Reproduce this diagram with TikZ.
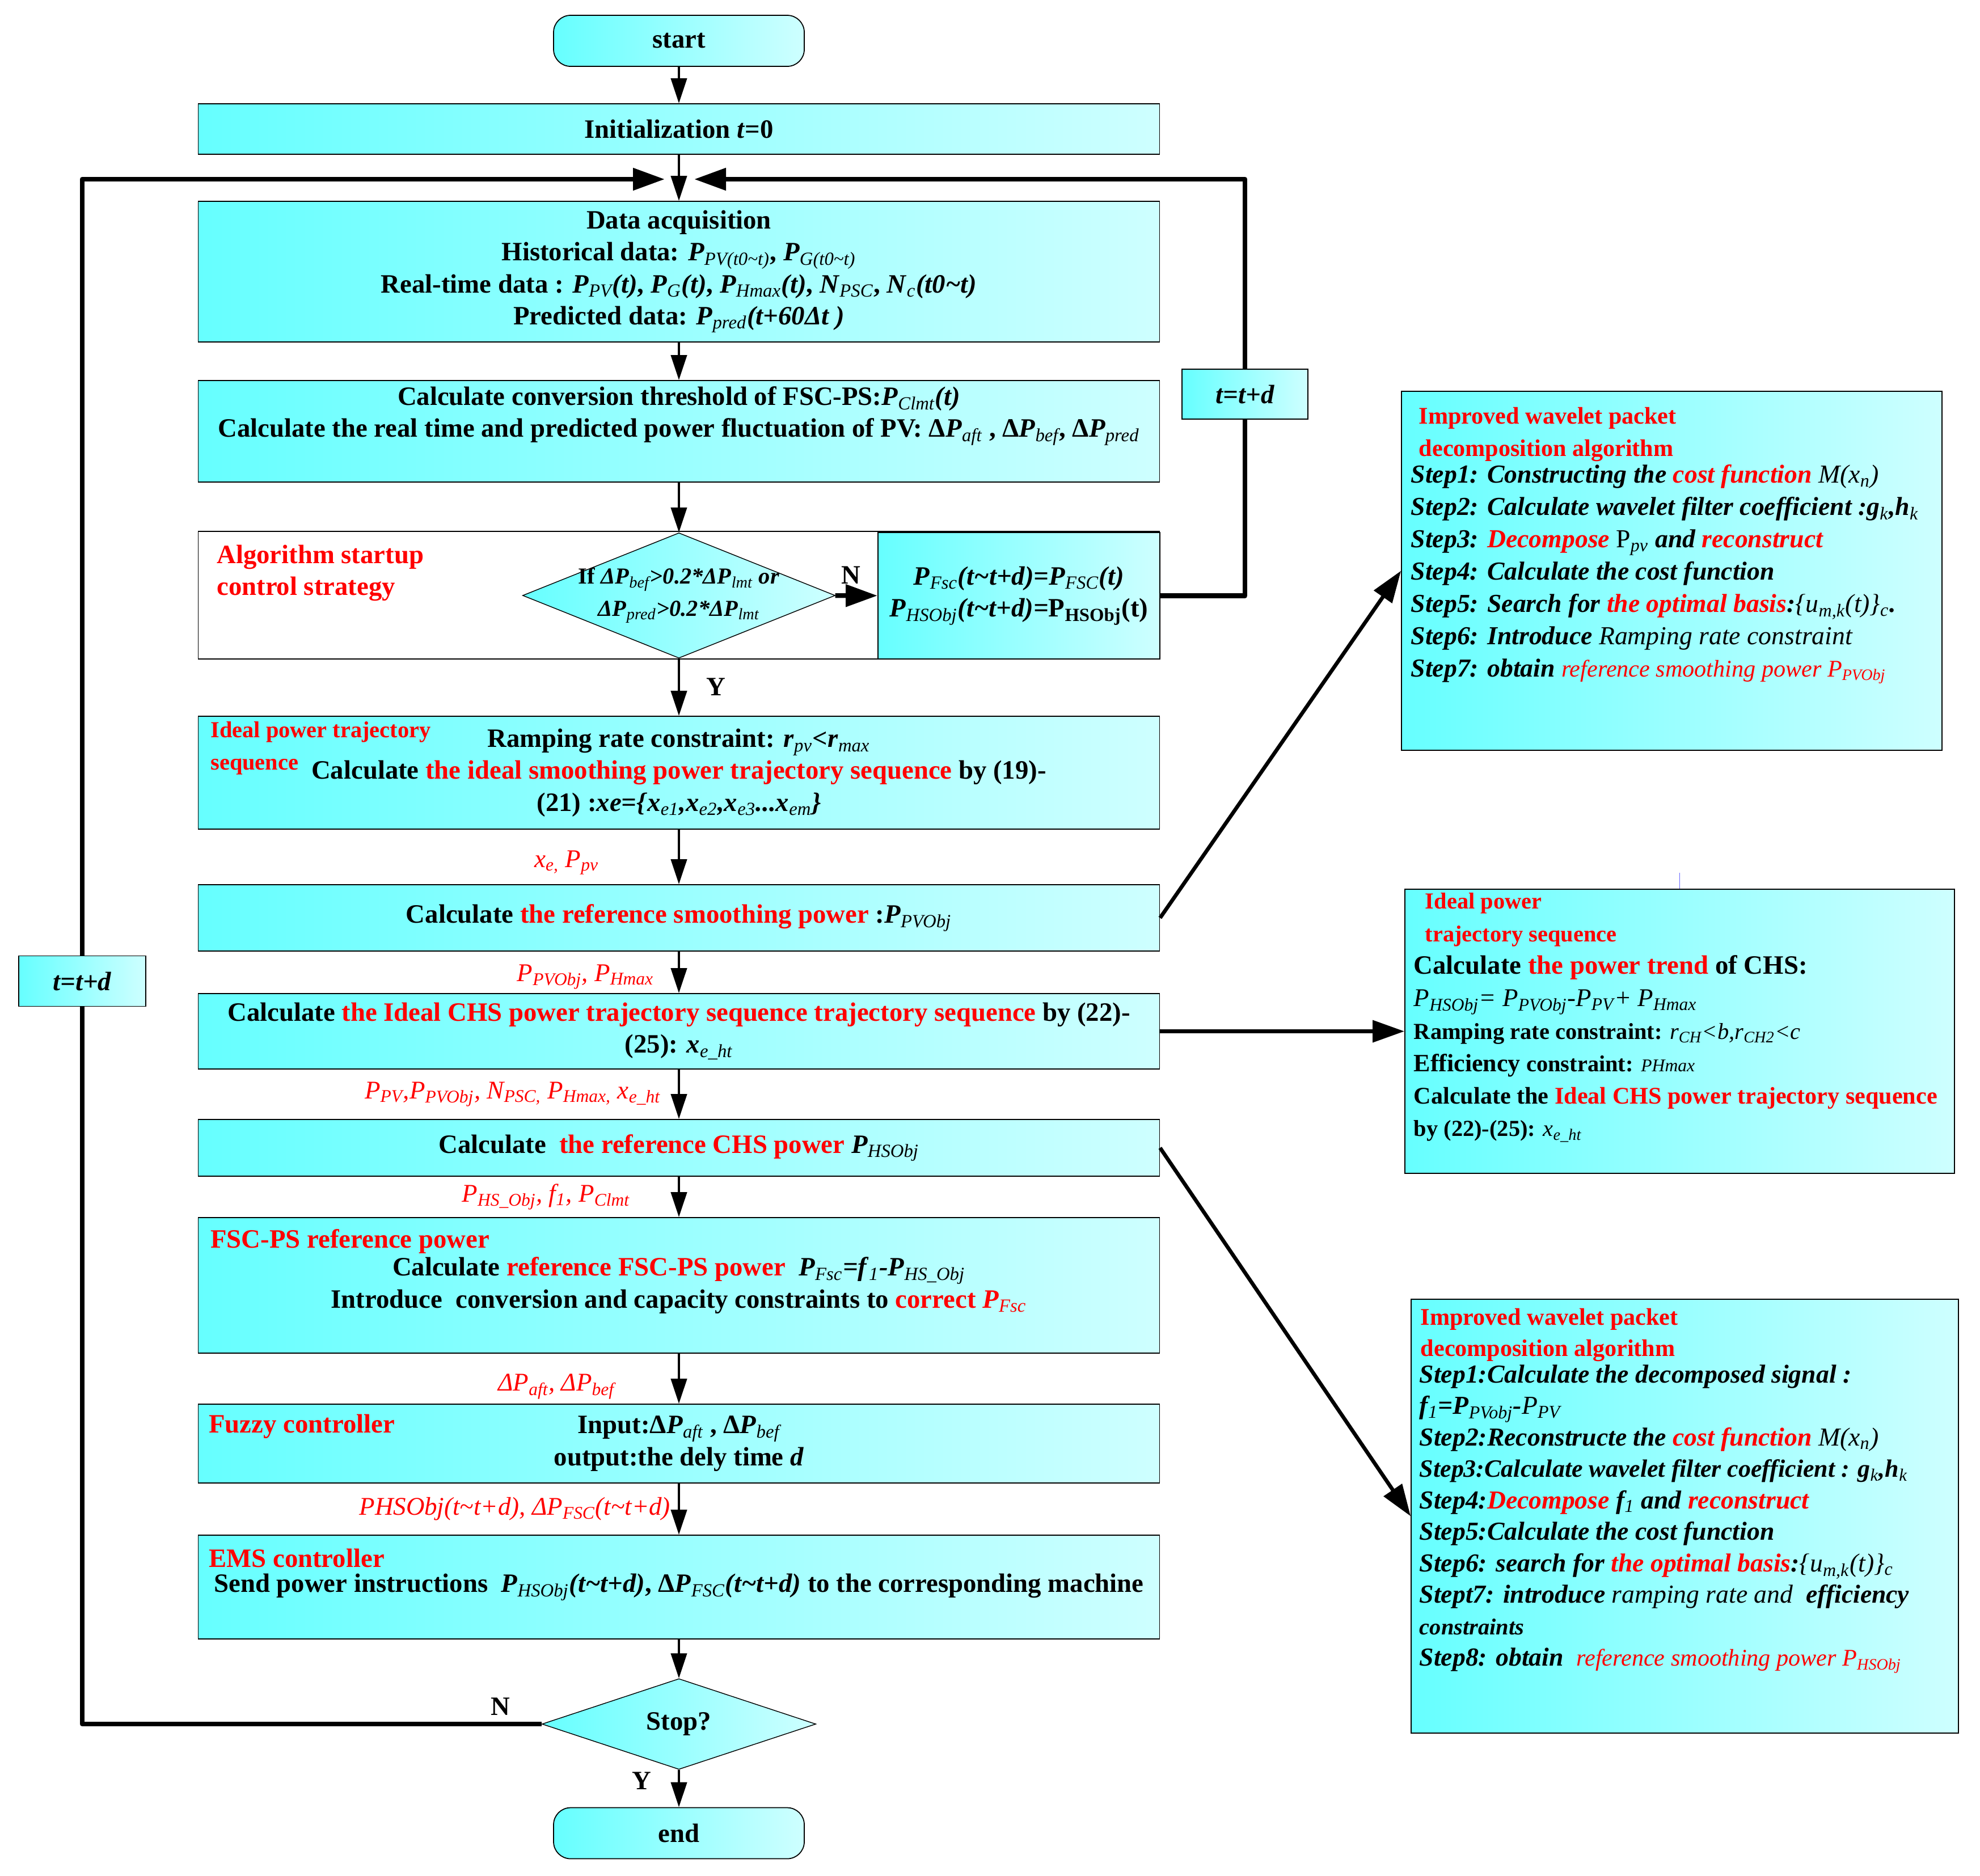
\documentclass[tikz,border=0pt]{standalone}
\usepackage{fontspec}
\setmainfont{Liberation Serif}
\usepackage{tikz}
\usetikzlibrary{arrows.meta, positioning, shapes.geometric}
\usepackage{xcolor}

\definecolor{cyl}{RGB}{102,255,255}
\definecolor{cyr}{RGB}{206,255,255}
\newcommand{\sbs}[1]{\textsubscript{\normalfont\itshape #1}}
\newcommand{\vv}[2]{\textit{#1}\sbs{#2}}
\newcommand{\rd}[1]{\textcolor{red}{#1}}
\newcommand{\tld}{\textasciitilde}

\begin{document}
\begin{tikzpicture}[
    font=\bfseries\fontsize{13.3}{16}\selectfont,
    >={Triangle[length=4.4mm,width=2.8mm]},
    box/.style={draw, line width=0.5pt, left color=cyl, right color=cyr,
        minimum width=16.95cm, inner sep=0pt, align=center},
    terminal/.style={box, rounded corners=0.3cm, minimum width=4.42cm, minimum height=0.9cm},
    decide/.style={draw, diamond, line width=0.4pt, left color=cyl, right color=cyr, inner sep=0pt},
    side/.style={draw, line width=0.5pt, left color=cyl, right color=cyr, inner sep=0pt},
    flow/.style={->, line width=1.2pt},
    bigflow/.style={-{Triangle[length=5.6mm,width=3.8mm]}, line width=2.4pt, line join=round},
    thickline/.style={line width=2.4pt, line join=round},
    lbl/.style={text=red, inner sep=0pt, font=\itshape\fontsize{12.8}{14}\selectfont},
    redtitle/.style={text=red, align=left, inner sep=0pt, anchor=north west},
    steps/.style={align=left, inner sep=0pt, anchor=north west, font=\bfseries\itshape\fontsize{13}{16.2}\selectfont},
]
    \useasboundingbox (0,0) rectangle (34.91,-33.07);

    % main column
    \node[terminal] (start) at (11.97,-0.72) {start};
    \node[box, minimum height=0.89cm] (init) at (11.97,-2.275) {Initialization \textit{t}=0};
    \node[box, minimum height=2.48cm] (data) at (11.97,-4.79) {Data acquisition\\
        Historical data: \vv{P}{PV(t0\tld t)}, \vv{P}{G(t0\tld t)}\\
        Real-time data : \vv{P}{PV}\textit{(t)}, \vv{P}{G}\textit{(t)}, \vv{P}{Hmax}\textit{(t)}, \vv{N}{PSC}, \vv{N}{c}\textit{(t0\tld t)}\\
        Predicted data: \vv{P}{pred}\textit{(t+60Δt )}};
    \node[box, minimum height=1.79cm] (thr) at (11.97,-7.605) {};
    \node[align=center] (thrtxt) at (11.97,-7.335) {Calculate conversion threshold of FSC-PS:\vv{P}{Clmt}\textit{(t)}\\
        Calculate the real time and predicted power fluctuation of PV: Δ\vv{P}{aft} , Δ\vv{P}{bef}, Δ\vv{P}{pred}};

    % startup strategy
    \node[draw, fill=white, line width=0.5pt, minimum width=16.95cm, minimum height=2.25cm] (strat) at (11.97,-10.495) {};
    \node[redtitle] (strattxt) at ([shift={(0.33,-0.24)}]strat.north west) {Algorithm startup\\control strategy};
    \node[decide, minimum width=5.51cm, minimum height=2.21cm] (cond) at (11.97,-10.50) {};
    \node[align=center, font=\bfseries\fontsize{11.5}{16}\selectfont] (condtxt) at (cond) {If \textit{Δ}\vv{P}{bef}\textit{>0.2*Δ}\vv{P}{lmt} \textit{or}\\
        \textit{Δ}\vv{P}{pred}\textit{>0.2*Δ}\vv{P}{lmt}};
    \node[side, minimum width=4.97cm, minimum height=2.23cm, align=center] (fscbox) at (17.965,-10.505) {\vv{P}{Fsc}\textit{(t\tld t+d)=}\vv{P}{FSC}\textit{(t)}\\
        \vv{P}{HSObj}\textit{(t\tld t+d)=}P\textsubscript{HSObj}(t)};

    \node[box, minimum height=1.99cm] (ideal) at (11.97,-13.625) {Ramping rate constraint: \vv{r}{pv}\textit{<}\vv{r}{max}\\
        Calculate \rd{the ideal smoothing power trajectory sequence} by (19)-\\
        (21) :\textit{xe=\{}\vv{x}{e1}\textit{,}\vv{x}{e2}\textit{,}\vv{x}{e3}\textit{...}\vv{x}{em}\textit{\}}};
    \node[redtitle, font=\bfseries\fontsize{11.5}{16}\selectfont] (idealtxt) at ([shift={(0.22,-0.10)}]ideal.north west) {Ideal power trajectory\\sequence};
    \node[box, minimum height=1.17cm] (refsm) at (11.97,-16.185) {Calculate \rd{the reference smoothing power} :\vv{P}{PVObj}};
    \node[box, minimum height=1.33cm] (chsideal) at (11.97,-18.185) {Calculate \rd{the Ideal CHS power trajectory sequence trajectory sequence} by (22)-\\
        (25): \vv{x}{e\_ht}};
    \node[box, minimum height=1.0cm] (refchs) at (11.97,-20.24) {Calculate\ \ \rd{the reference CHS power} \vv{P}{HSObj}};
    \node[box, minimum height=2.39cm] (fscref) at (11.97,-22.665) {Calculate \rd{reference FSC-PS power}\ \ \vv{P}{Fsc}\textit{=}\vv{f}{1}\textit{-}\vv{P}{HS\_Obj}\\
        Introduce\ \ conversion and capacity constraints to \rd{correct \vv{P}{Fsc}}};
    \node[redtitle] (fscreftxt) at ([shift={(0.22,-0.21)}]fscref.north west) {FSC-PS reference power};
    \node[box, minimum height=1.39cm] (fuzzy) at (11.97,-25.455) {Input:Δ\vv{P}{aft} , Δ\vv{P}{bef}\\output:the dely time \textit{d}};
    \node[redtitle] (fuzzytxt) at ([shift={(0.19,-0.18)}]fuzzy.north west) {Fuzzy controller};
    \node[box, minimum height=1.83cm] (ems) at (11.97,-27.985) {Send power instructions\ \ \vv{P}{HSObj}\textit{(t\tld t+d)}, Δ\vv{P}{FSC}\textit{(t\tld t+d)} to the corresponding machine};
    \node[redtitle] (emstxt) at ([shift={(0.19,-0.24)}]ems.north west) {EMS controller};
    \node[decide, minimum width=4.83cm, minimum height=1.60cm] (stop) at (11.97,-30.40) {Stop?};
    \node[terminal] (finish) at (11.97,-32.325) {end};

    % loop boxes
    \node[side, minimum width=2.24cm, minimum height=0.89cm, font=\bfseries\itshape\fontsize{13.3}{16}\selectfont] (tdleft) at (1.45,-17.30) {t=t+d};
    \node[side, minimum width=2.22cm, minimum height=0.88cm, font=\bfseries\itshape\fontsize{13.3}{16}\selectfont] (tdright) at (21.95,-6.95) {t=t+d};
    \coordinate (joinL) at (11.72,-3.16);
    \coordinate (joinR) at (12.24,-3.16);

    % flow
    \draw[flow] (start) -- (init);
    \draw[flow] (init) -- (data);
    \draw[flow] (data) -- (thr);
    \draw[flow] (thr) -- (cond);
    \draw[flow] (cond) -- node[right=0.35cm]{Y} (ideal);
    \draw[bigflow] (cond) -- node[above=0.05cm, xshift=-0.1cm]{N} (fscbox);
    \draw[flow] (ideal) -- node[lbl, left=1.39cm, yshift=-0.1cm]{\vv{x}{e,} \vv{P}{pv}} (refsm);
    \draw[flow] (refsm) -- node[lbl, left=0.42cm, yshift=-0.08cm]{\vv{P}{PVObj}, \vv{P}{Hmax}} (chsideal);
    \draw[flow] (chsideal) -- node[lbl, left=0.30cm]{\vv{P}{PV},\vv{P}{PVObj}, \vv{N}{PSC,} \vv{P}{Hmax,} \vv{x}{e\_ht}} (refchs);
    \draw[flow] (refchs) -- node[lbl, left=0.84cm]{\vv{P}{HS\_Obj}, \vv{f}{1}, \vv{P}{Clmt}} (fscref);
    \draw[flow] (fscref) -- node[lbl, left=1.11cm, yshift=-0.14cm]{Δ\vv{P}{aft}, Δ\vv{P}{bef}} (fuzzy);
    \draw[flow] (fuzzy) -- node[lbl, left=0.13cm]{PHSObj(t\tld t+d), Δ\vv{P}{FSC}(t\tld t+d)} (ems);
    \draw[flow] (ems) -- (stop);
    \draw[flow] (stop) -- node[left=0.35cm, yshift=0.14cm]{Y} (finish);

    % feedback loops
    \draw[thickline] (stop.west) -| node[pos=0.045, above]{N} (tdleft.south);
    \draw[bigflow] (tdleft.north) |- (joinL);
    \draw[thickline] (fscbox.east) -| (tdright.south);
    \draw[bigflow] (tdright.north) |- (joinR);

    % side panels
    \node[side, minimum width=9.53cm, minimum height=6.33cm] (wp1) at (29.475,-10.065) {};
    \node[steps] (wp1txt) at ([shift={(0.17,-0.28)}]wp1.north west) {%
        \hspace*{0.14cm}{\upshape\fontsize{12}{16}\selectfont\rd{Improved wavelet packet}}\\
        \hspace*{0.14cm}{\upshape\fontsize{12}{16}\selectfont\rd{decomposition algorithm}}\\[-0.09cm]
        Step1: Constructing the \rd{cost function} {\mdseries M(x\sbs{n})}\\
        Step2: Calculate wavelet filter coefficient :g\sbs{k},h\sbs{k}\\
        Step3: \rd{Decompose} {\mdseries\upshape P\sbs{pv}} and \rd{reconstruct}\\
        Step4: Calculate the cost function\\
        Step5: Search for \rd{the optimal basis}:{\mdseries\{u\sbs{m,k}(t)\}\sbs{c}}.\\
        Step6: Introduce {\mdseries Ramping rate constraint}\\
        Step7: obtain \rd{\mdseries\fontsize{12}{16}\selectfont reference smoothing power P\sbs{PVObj}}};
    \node[side, minimum width=9.69cm, minimum height=5.01cm] (ips) at (29.615,-18.185) {};
    \node[steps, font=\bfseries\fontsize{12}{16.3}\selectfont] (ipstxt) at ([shift={(0.16,-0.07)}]ips.north west) {%
        \hspace*{0.2cm}{\fontsize{11.5}{16.3}\selectfont\rd{Ideal power}}\\
        \hspace*{0.2cm}{\fontsize{11.5}{16.3}\selectfont\rd{trajectory sequence}}\\
        {\fontsize{13.3}{16.3}\selectfont Calculate \rd{the power trend} of CHS:}\\
        {\mdseries\itshape\fontsize{12.8}{16.3}\selectfont P\sbs{HSObj}= P\sbs{PVObj}-P\sbs{PV}+ P\sbs{Hmax}}\\
        {\fontsize{11.5}{16.3}\selectfont Ramping rate constraint: {\mdseries\itshape r\sbs{CH}<b,r\sbs{CH2}<c}}\\
        {\fontsize{12.5}{16.3}\selectfont Efficiency} {\fontsize{11.5}{16.3}\selectfont constraint: {\mdseries\itshape\fontsize{9}{16.3}\selectfont PHmax}}\\
        Calculate the \rd{Ideal CHS power trajectory sequence}\\
        {\fontsize{11.5}{16.3}\selectfont by (22)-(25): {\mdseries\itshape x\sbs{e\_ht}}}};
    \draw[blue!60, line width=0.3pt] (ips.north) -- ++(0,0.28);
    \node[side, minimum width=9.65cm, minimum height=7.65cm] (wp2) at (29.705,-26.735) {};
    \node[steps, font=\bfseries\itshape\fontsize{13}{15.8}\selectfont] (wp2txt) at ([shift={(0.15,-0.16)}]wp2.north west) {%
        \hspace*{0.02cm}{\upshape\fontsize{12}{15.8}\selectfont\rd{Improved wavelet packet}}\\
        \hspace*{0.02cm}{\upshape\fontsize{12}{15.8}\selectfont\rd{decomposition algorithm}}\\[-0.09cm]
        Step1:Calculate the decomposed signal :\\
        f\sbs{1}=P\sbs{PVobj}-{\mdseries P\sbs{PV}}\\
        Step2:Reconstructe the \rd{cost function} {\mdseries M(x\sbs{n})}\\
        {\fontsize{12.5}{15.8}\selectfont Step3:Calculate wavelet filter coefficient : g\sbs{k},h\sbs{k}}\\
        Step4:\rd{Decompose} f\sbs{1} and \rd{reconstruct}\\
        Step5:Calculate the cost function\\
        Step6: search for \rd{the optimal basis}:{\mdseries\{u\sbs{m,k}(t)\}\sbs{c}}\\
        Stept7: introduce {\mdseries ramping rate and}\ \ efficiency\\
        {\fontsize{11.5}{15.8}\selectfont constraints}\\
        Step8: obtain\ \ \rd{\mdseries\fontsize{12}{15.8}\selectfont reference smoothing power P\sbs{HSObj}}};

    % links to side panels
    \draw[bigflow, line width=1.9pt] (refsm.east) -- (wp1.west);
    \draw[bigflow, line width=1.9pt] (chsideal.east) -- (ips.west);
    \draw[bigflow, line width=1.9pt] (refchs.east) -- (wp2.west);
\end{tikzpicture}
\end{document}
